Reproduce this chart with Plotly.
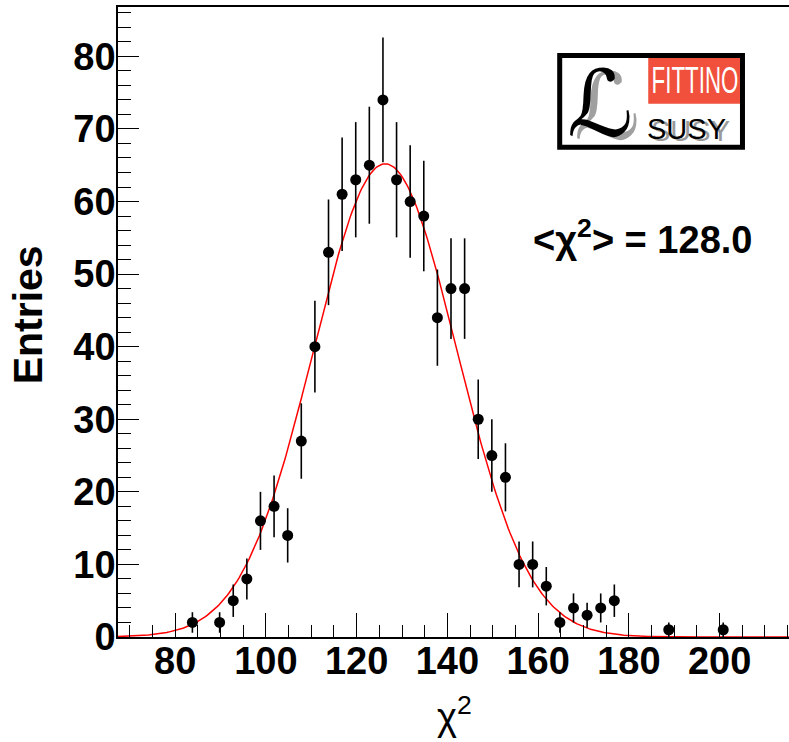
import numpy as np
import plotly.graph_objects as go

# ---- data ----
bin_centers = [83.8, 89.8, 92.8, 95.8, 98.8, 101.8, 104.8, 107.8, 110.8, 113.8,
               116.8, 119.8, 122.8, 125.8, 128.8, 131.8, 134.8, 137.8, 140.8, 143.8,
               146.8, 149.8, 152.8, 155.8, 158.8, 161.8, 164.8, 167.8, 170.8, 173.8,
               176.8, 188.8, 200.8]
entries = [2, 2, 5, 8, 16, 18, 14, 27, 40, 53,
           61, 63, 65, 74, 63, 60, 58, 44, 48, 48,
           30, 25, 22, 10, 10, 7, 2, 4, 3, 4,
           5, 1, 1]

# Gaussian fit parameters
fit_amplitude = 65.2
fit_mean = 126.3
fit_sigma = 15.8

x_range = [67.4, 215.3]
y_range = [0, 86.8]
x_tick_vals = [80, 100, 120, 140, 160, 180, 200]
y_tick_vals = [0, 10, 20, 30, 40, 50, 60, 70, 80]
mean_label = "&lt;χ<sup>2</sup>&gt; = 128.0"

W, H = 789, 742
L, R, T, B = 118.3, 0, 7.3, 104.7

errors = [float(np.sqrt(v)) for v in entries]
fit_x = np.linspace(x_range[0], x_range[1], 400)
fit_y = fit_amplitude * np.exp(-0.5 * ((fit_x - fit_mean) / fit_sigma) ** 2)

fig = go.Figure()
fig.add_trace(go.Scatter(x=fit_x, y=fit_y, mode="lines",
                         line=dict(color="#ff0000", width=1.5),
                         hoverinfo="skip", showlegend=False))
fig.add_trace(go.Scatter(x=bin_centers, y=entries, mode="markers",
                         marker=dict(color="black", size=11, symbol="circle"),
                         error_y=dict(type="data", array=errors, visible=True,
                                      color="black", thickness=1.6, width=0),
                         showlegend=False))

tickfont = dict(family="Liberation Sans, Arial, sans-serif", size=38, color="black", weight="bold")

fig.update_xaxes(range=x_range, tickmode="array", tickvals=x_tick_vals,
                 ticks="inside", ticklen=24, tickwidth=1, tickcolor="black",
                 showline=True, linecolor="black", linewidth=1.5, mirror=True,
                 showgrid=False, zeroline=False, tickfont=tickfont,
                 ticklabelstandoff=-10,
                 minor=dict(dtick=5, tick0=0, ticks="inside", ticklen=12, tickwidth=1,
                            tickcolor="black", showgrid=False),
                 automargin=False)
fig.update_yaxes(range=y_range, tickmode="array", tickvals=y_tick_vals,
                 ticks="inside", ticklen=21, tickwidth=1, tickcolor="black",
                 showline=True, linecolor="black", linewidth=1.5, mirror=False,
                 showgrid=False, zeroline=False, tickfont=tickfont,
                 ticklabelstandoff=-7,
                 minor=dict(dtick=2, tick0=0, ticks="inside", ticklen=13, tickwidth=1,
                            tickcolor="black", showgrid=False),
                 automargin=False)


def px_x(p):
    return (p - L) / (W - L - R)


def px_y(p):
    return (H - B - p) / (H - B - T)


shapes = [
    dict(type="rect", xref="paper", yref="paper",
         x0=px_x(559.8), x1=px_x(742.5), y0=px_y(147.5), y1=px_y(55.8),
         line=dict(color="black", width=5), fillcolor="white", layer="above"),
    dict(type="rect", xref="paper", yref="paper",
         x0=px_x(648.3), x1=px_x(740.0), y0=px_y(104.0), y1=px_y(58.3),
         line=dict(width=0), fillcolor="#F0503C", layer="above"),
]
annotations = [
    dict(text="Entries", xref="paper", yref="paper", x=px_x(28), y=px_y(315),
         textangle=-90, showarrow=False, xanchor="center", yanchor="middle",
         font=dict(family="Liberation Sans, Arial", size=41, color="black", weight="bold")),
    dict(text="χ<sup>2</sup>", xref="paper", yref="paper", x=px_x(455), y=px_y(714),
         showarrow=False, xanchor="center", yanchor="middle",
         font=dict(family="Liberation Sans, Arial", size=38, color="black")),
    dict(text="FITTINO", xref="paper", yref="paper", x=px_x(695), y=px_y(81),
         showarrow=False, xanchor="center", yanchor="middle",
         font=dict(family="Liberation Sans, Arial", size=36, color="white")),
    dict(text="SUSY", xref="paper", yref="paper", x=px_x(691), y=px_y(131),
         showarrow=False, xanchor="center", yanchor="middle",
         font=dict(family="Liberation Sans, Arial", size=29, color="#9a9a9a")),
    dict(text="SUSY", xref="paper", yref="paper", x=px_x(687), y=px_y(129),
         showarrow=False, xanchor="center", yanchor="middle",
         font=dict(family="Liberation Sans, Arial", size=29, color="black")),
    dict(text="ℒ", xref="paper", yref="paper", x=px_x(607), y=px_y(108),
         showarrow=False, xanchor="center", yanchor="middle",
         font=dict(family="DejaVu Serif, DejaVu Sans", size=92, color="#a0a0a0")),
    dict(text="ℒ", xref="paper", yref="paper", x=px_x(600), y=px_y(105),
         showarrow=False, xanchor="center", yanchor="middle",
         font=dict(family="DejaVu Serif, DejaVu Sans", size=92, color="black")),
    dict(text=mean_label, xref="paper", yref="paper", x=px_x(643), y=px_y(237),
         showarrow=False, xanchor="center", yanchor="middle",
         font=dict(family="Liberation Sans, Arial", size=38, color="black", weight="bold")),
]

fig.update_layout(width=W, height=H,
                  margin=dict(l=L, r=R, t=T, b=B, pad=0),
                  paper_bgcolor="white", plot_bgcolor="white",
                  shapes=shapes, annotations=annotations, showlegend=False)

post_js = """
document.body.style.margin = '0px';
document.querySelectorAll('.annotation-text').forEach(function (t) {
  if (t.textContent === 'FITTINO') {
    t.style.transformBox = 'fill-box';
    t.style.transformOrigin = 'center';
    t.style.transform = 'scaleX(0.62)';
  }
});
"""

fig.write_html("out.html", post_script=post_js, config={"displayModeBar": False})
